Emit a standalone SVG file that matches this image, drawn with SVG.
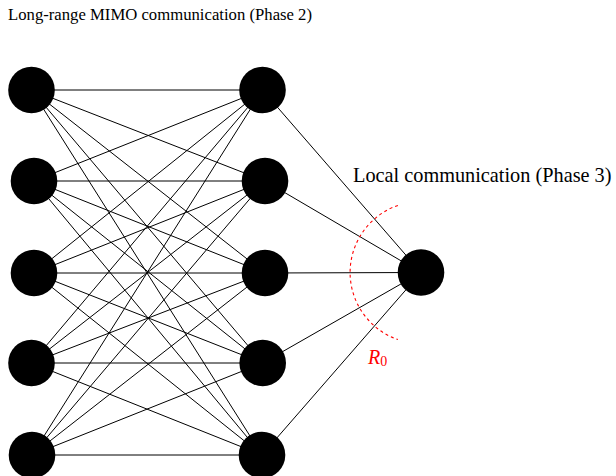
<svg xmlns="http://www.w3.org/2000/svg" width="616" height="476" viewBox="0 0 616 476">
<style>
.n{fill:#000}
.e{stroke:#000;stroke-width:1;fill:none}
.t{font-family:"Liberation Serif","Times New Roman",serif;font-size:16.7px;fill:#000}
.arc{stroke:#f00;stroke-width:1.1;fill:none;stroke-dasharray:3 3}
.r{font-family:"Liberation Serif","Times New Roman",serif;fill:#f00}
</style>
<rect width="616" height="476" fill="#fff"/>
<g id="edges">
<path class="e" d="M31.5 90L262.5 90M31.5 90L265 181M31.5 90L265 273M31.5 90L262.7 363M31.5 90L262 455
M34 181L262.5 90M34 181L265 181M34 181L265 273M34 181L262.7 363M34 181L262 455
M34 273L262.5 90M34 273L265 181M34 273L265 273M34 273L262.7 363M34 273L262 455
M31.5 363L262.5 90M31.5 363L265 181M31.5 363L265 273M31.5 363L262.7 363M31.5 363L262 455
M32 455L262.5 90M32 455L265 181M32 455L265 273M32 455L262.7 363M32 455L262 455
M262.5 90L421 272.5M265 181L421 272.5M265 273L421 272.5M262.7 363L421 272.5M262 455L421 272.5"/>
</g>
<g id="L1"><circle class="n" cx="31.5" cy="90" r="23.3"/></g>
<g id="L2"><circle class="n" cx="34" cy="181" r="23.3"/></g>
<g id="L3"><circle class="n" cx="34" cy="273" r="23.3"/></g>
<g id="L4"><circle class="n" cx="31.5" cy="363" r="23.3"/></g>
<g id="L5"><circle class="n" cx="32" cy="455" r="23.3"/></g>
<g id="M1"><circle class="n" cx="262.5" cy="90" r="23.3"/></g>
<g id="M2"><circle class="n" cx="265" cy="181" r="23.3"/></g>
<g id="M3"><circle class="n" cx="265" cy="273" r="23.3"/></g>
<g id="M4"><circle class="n" cx="262.7" cy="363" r="23.3"/></g>
<g id="M5"><circle class="n" cx="262" cy="455" r="23.3"/></g>
<g id="R"><circle class="n" cx="421" cy="272.5" r="23.3"/></g>
<g id="range">
<path class="arc" d="M397.9 205.4A71 71 0 0 0 397.9 339.6"/>
<text class="r" x="368" y="364" font-size="20" font-style="italic">R<tspan font-size="14" font-style="normal" dy="2">0</tspan></text>
</g>
<text class="t" x="8" y="20">Long-range MIMO communication (Phase 2)</text>
<text class="t" x="353" y="182" style="font-size:20.3px">Local communication (Phase 3)</text>
</svg>
